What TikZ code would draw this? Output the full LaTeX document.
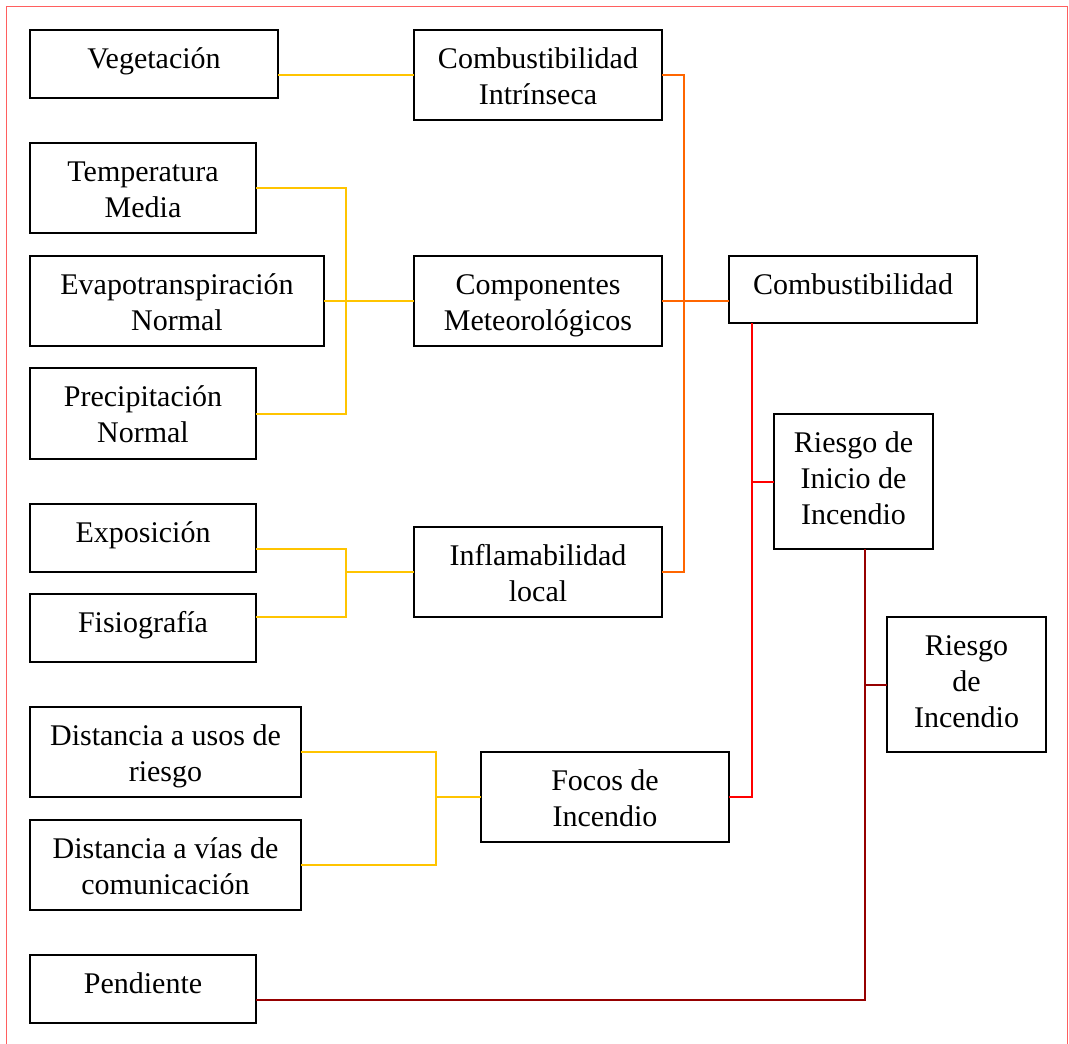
\documentclass[tikz,border=0pt]{standalone}
\usepackage{fontspec}
\setmainfont{Liberation Serif}
\definecolor{cyel}{RGB}{255,196,0}
\definecolor{corg}{RGB}{255,102,0}
\definecolor{cred}{RGB}{255,0,0}
\definecolor{cdrk}{RGB}{150,0,0}
\definecolor{cbrd}{RGB}{255,95,95}
\newcommand{\mkbox}[6]{%
  \node[boxst, minimum width={#4-#2}, minimum height={#5-#3}] (#1) at ({(#2+#4)/2},{(#3+#5)/2}) {};
  \node[txtst] at ([yshift=-12.8pt]#1.north) {\strut #6};
}
\begin{document}
\begin{tikzpicture}[x=1pt,y=-1pt,
  boxst/.style={draw=black, line width=2pt, rectangle, inner sep=0pt, outer sep=0pt, fill=white},
  txtst/.style={anchor=north, inner sep=0pt, align=center, font=\fontsize{30}{36}\selectfont},
  yel/.style={draw=cyel, line width=2pt},
  org/.style={draw=corg, line width=2pt},
  rdl/.style={draw=cred, line width=2pt},
  drk/.style={draw=cdrk, line width=2pt}]
\useasboundingbox (0,0) rectangle (1069,1044);
\draw[cbrd, line width=1.5pt] (6.5,1044) -- (6.5,6.5) -- (1067.5,6.5) -- (1067.5,1044);

% junction coordinates
\coordinate (j1) at (346,301);
\coordinate (j2) at (346,572);
\coordinate (j3) at (436,797);
\coordinate (o1) at (684,572);
\coordinate (r1) at (752,797);
\coordinate (d1) at (865,1000);

\mkbox{veg}{30}{30}{278}{98}{Vegetación}
\mkbox{ci}{414}{30}{662}{120}{Combustibilidad\\Intrínseca}
\mkbox{temp}{30}{143}{256}{233}{Temperatura\\Media}
\mkbox{evap}{30}{256}{324}{346}{Evapotranspiración\\Normal}
\mkbox{prec}{30}{368}{256}{459}{Precipitación\\Normal}
\mkbox{comp}{414}{256}{662}{346}{Componentes\\Meteorológicos}
\mkbox{comb}{729}{256}{977}{323}{Combustibilidad}
\mkbox{rii}{774}{414}{933}{549}{Riesgo de\\Inicio de\\Incendio}
\mkbox{exp}{30}{504}{256}{572}{Exposición}
\mkbox{fis}{30}{594}{256}{662}{Fisiografía}
\mkbox{infl}{414}{527}{662}{617}{Inflamabilidad\\local}
\mkbox{ri}{887}{617}{1046}{752}{Riesgo\\de\\Incendio}
\mkbox{du}{30}{707}{301}{797}{Distancia a usos de\\riesgo}
\mkbox{dv}{30}{820}{301}{910}{Distancia a vías de\\comunicación}
\mkbox{foc}{481}{752}{729}{842}{Focos de\\Incendio}
\mkbox{pend}{30}{955}{256}{1023}{Pendiente}

% yellow
\draw[yel] (veg.east |- ci.west) -- (ci.west);
\draw[yel] (temp.east) -| (j1);
\draw[yel] (prec.east) -| (j1);
\draw[yel] (evap.east) -- (comp.west);
\draw[yel] ([yshift=-11pt]exp.east) -| (j2);
\draw[yel] ([yshift=11pt]fis.east) -| (j2);
\draw[yel] (j2) -- (infl.west);
\draw[yel] (du.east) -| (j3);
\draw[yel] (dv.east) -| (j3);
\draw[yel] (j3) -- (foc.west);
% orange
\draw[org] (ci.east) -| (o1) -- (infl.east);
\draw[org] (comp.east) -- (comp.east -| comb.west);
% red
\draw[rdl] (r1 |- comb.south) -- (r1) -- (foc.east);
\draw[rdl] (r1 |- rii.west) -- (rii.west);
% dark red
\draw[drk] (d1 |- rii.south) -- (d1) -- (pend.east |- d1);
\draw[drk] (d1 |- ri.west) -- (ri.west);
\end{tikzpicture}
\end{document}
